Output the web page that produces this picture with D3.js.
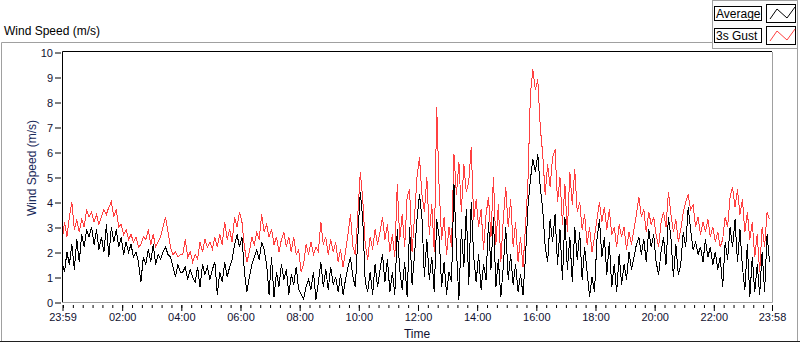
<!DOCTYPE html>
<html>
<head>
<meta charset="utf-8">
<script src="https://cdnjs.cloudflare.com/ajax/libs/d3/7.8.5/d3.min.js"></script>
<style>
body { margin: 0; background: #fff; }
text { font-family: "Liberation Sans", Arial, sans-serif; }
</style>
</head>
<body>
<svg id="chart"></svg>
<script>
// x axis labels, first and last are the record start / end
var timeLabels = ["23:59", "02:00", "04:00", "06:00", "08:00", "10:00", "12:00",
    "14:00", "16:00", "18:00", "20:00", "22:00", "23:58"];
var yTicks = [0, 1, 2, 3, 4, 5, 6, 7, 8, 9, 10];
var seriesNames = ["Average", "3s Gust"];
var sampleMinutes = 5;

// 3 s gust (red), one value per 5 minutes from 23:59
var gust = [2.4,3.2,2.6,3.4,4.0,2.9,3.3,2.8,3.3,3.0,3.7,3.4,3.6,3.2,3.5,3.1,3.4,3.7,3.5,3.8,4.0,3.4,3.7,3.0,3.1,2.7,2.9,2.5,2.7,2.4,2.6,2.2,2.3,2.6,2.5,2.9,2.3,2.7,2.2,2.4,2.6,3.0,3.4,2.8,2.2,1.9,2.0,1.8,1.9,
    1.9,2.5,1.8,2.0,1.6,1.9,1.7,2.4,2.0,2.5,2.2,2.4,2.1,2.6,2.2,2.7,2.3,3.2,2.5,2.9,2.4,3.4,3.0,3.6,3.2,2.2,1.6,2.0,2.6,2.3,2.8,2.5,3.5,2.8,3.1,2.6,2.9,2.3,2.6,2.0,2.5,2.8,2.2,2.6,2.0,2.6,1.9,2.1,
    1.2,1.5,2.3,1.9,2.4,1.9,2.2,2.0,3.2,2.3,2.6,1.9,2.5,2.0,2.4,1.6,2.1,1.4,2.0,2.7,3.5,2.2,1.9,3.5,5.2,4.1,2.3,1.7,2.6,2.1,2.9,2.3,2.8,3.4,2.5,3.1,2.0,2.7,1.8,4.7,2.5,3.5,2.2,4.2,4.5,2.0,3.4,5.0,5.8,
    4.3,3.6,5.0,2.7,3.9,2.0,7.8,4.5,2.5,3.4,1.9,3.0,2.2,5.9,4.3,5.6,3.6,5.5,4.4,4.8,6.2,3.3,4.1,3.0,3.7,2.1,3.5,4.2,2.6,5.0,2.3,3.9,1.6,3.3,4.6,3.0,4.1,2.2,3.2,1.6,2.6,1.4,3.0,4.8,8.3,9.3,8.5,8.9,7.0,
    5.9,4.3,5.5,4.6,5.8,6.1,4.0,5.0,3.1,4.7,2.8,5.2,3.9,5.3,3.6,4.0,2.9,3.5,2.3,3.0,2.0,2.6,3.3,4.0,3.2,3.8,2.9,3.7,2.7,3.0,2.2,3.1,2.6,3.0,2.1,2.8,2.3,2.9,3.5,4.2,3.4,3.7,2.8,3.6,3.1,3.4,2.7,2.2,
    3.2,3.6,3.0,4.4,3.5,2.8,3.3,2.4,2.9,3.6,4.0,4.3,3.7,3.9,3.0,3.4,2.7,3.2,2.8,3.3,2.6,3.0,2.4,2.8,2.2,2.5,3.4,3.0,4.2,4.6,3.8,4.5,3.5,4.1,2.8,3.6,2.5,3.2,1.8,2.7,1.2,3.0,2.2,3.6,3.3];

// average (black)
var average = [1.6,1.2,2.0,1.5,2.3,1.3,2.5,1.6,2.7,2.2,2.9,2.6,3.0,2.3,2.9,2.1,2.6,2.0,3.1,1.8,3.0,2.4,2.9,2.2,2.6,1.9,2.4,2.0,2.3,1.8,2.0,1.6,0.8,1.8,1.5,2.1,1.6,2.3,1.5,1.9,1.7,2.0,2.2,1.9,1.8,1.4,1.0,1.5,1.2,
    1.2,1.4,0.9,1.3,1.0,0.8,1.4,0.6,1.5,1.1,1.4,0.9,1.3,1.6,0.3,1.2,0.8,1.6,1.0,1.4,1.7,2.3,2.7,2.2,2.6,1.2,0.4,1.0,1.5,1.8,2.1,1.7,2.4,2.1,1.5,0.3,1.8,0.2,1.2,0.6,1.5,0.9,1.3,0.3,1.1,0.7,1.4,0.5,
    0.3,0.1,0.6,0.9,0.5,1.2,0.1,0.8,1.6,0.6,1.3,0.5,1.4,0.7,1.0,0.4,1.1,0.3,0.9,1.4,1.8,1.0,0.6,2.6,4.4,3.3,0.8,0.4,1.2,0.3,1.5,0.6,1.3,1.9,0.8,1.7,0.4,1.2,0.3,2.9,1.3,0.5,1.6,0.2,3.0,0.7,1.9,3.3,4.3,
    3.4,1.0,2.5,0.9,1.8,0.4,3.3,2.6,0.6,1.6,0.3,1.2,0.8,4.7,2.1,0.1,2.9,1.4,3.7,0.7,4.0,1.8,0.8,1.9,0.5,1.5,0.9,3.2,1.3,3.4,0.6,1.7,0.2,1.4,3.0,0.9,1.9,0.7,1.5,0.4,1.1,0.3,1.8,3.8,4.9,5.7,5.2,5.9,4.6,
    3.7,2.2,1.6,3.3,2.4,3.5,1.5,2.9,0.9,3.4,1.3,2.6,0.8,3.0,1.7,2.8,0.9,2.2,1.2,0.2,1.0,0.4,2.5,3.3,1.8,2.6,1.1,2.4,0.6,1.5,0.4,1.9,0.7,1.5,0.9,2.0,1.3,1.8,2.3,2.6,1.9,2.5,1.6,2.9,2.2,2.7,1.6,1.1,
    2.0,2.6,1.5,3.4,2.6,1.0,2.3,1.1,1.5,2.8,2.2,3.8,2.9,2.1,2.4,1.9,2.2,1.6,2.5,1.8,2.2,1.5,2.0,1.3,1.8,0.6,2.4,1.7,3.0,2.2,3.3,1.6,2.9,1.4,0.5,2.3,0.2,1.8,0.4,1.5,0.3,2.0,0.4,2.7,1.6];

var W = 800, H = 342;
var plot = { left: 62, right: 772, top: 52, bottom: 302 };

var startTime = new Date(2020, 0, 1, 23, 59);
var endTime = new Date(2020, 0, 2, 23, 58);

function labelTime(lbl, i) {
    if (i == 0) return startTime;
    if (i == timeLabels.length - 1) return endTime;
    var p = lbl.split(":");
    return new Date(2020, 0, 2, +p[0], +p[1]);
}
var majorTimes = timeLabels.map(labelTime);

var xScale = d3.scaleTime()
    .domain([startTime, endTime])
    .range([plot.left, plot.right - 0.5]);

var yScale = d3.scaleLinear()
    .domain([0, 10])
    .range([plot.bottom, plot.top]);

var svg = d3.select("#chart")
    .attr("width", W)
    .attr("height", H);

svg.append("rect").attr("width", W).attr("height", H).attr("fill", "#fff");

// outer frame
svg.append("path")
    .attr("d", "M1.5,341.5 V42.5 H797.5 V341.5")
    .attr("fill", "none")
    .attr("stroke", "#a0a0a0");
svg.append("line")
    .attr("x1", 0).attr("x2", W).attr("y1", 341.5).attr("y2", 341.5)
    .attr("stroke", "#202020");

svg.append("text")
    .attr("x", 4)
    .attr("y", 35)
    .attr("font-size", "12px")
    .attr("fill", "#000")
    .text("Wind Speed (m/s)");

// plot area
svg.append("rect")
    .attr("x", plot.left).attr("y", plot.top)
    .attr("width", plot.right - plot.left).attr("height", plot.bottom - plot.top)
    .attr("fill", "#fff");

var line = function(vals) {
    return d3.line()
        .x(function(d, i) { return xScale(d3.timeMinute.offset(startTime, i * sampleMinutes)); })
        .y(function(d) { return yScale(d); })(vals);
};

// non-antialiased 1px traces, like the instrument display
svg.append("path")
    .attr("d", line(gust))
    .attr("fill", "none")
    .attr("stroke", "#ff4040")
    .attr("stroke-width", 1)
    .attr("shape-rendering", "crispEdges");

svg.append("path")
    .attr("d", line(average))
    .attr("fill", "none")
    .attr("stroke", "#000")
    .attr("stroke-width", 1)
    .attr("shape-rendering", "crispEdges");

// plot border: dark top/left, grey bottom/right
svg.append("path")
    .attr("d", "M" + (plot.left + 0.5) + "," + plot.bottom + " V" + (plot.top - 0.5) + " H" + plot.right)
    .attr("fill", "none").attr("stroke", "#000");
svg.append("path")
    .attr("d", "M" + plot.left + "," + (plot.bottom + 0.5) + " H" + (plot.right + 0.5) + " V" + plot.top)
    .attr("fill", "none").attr("stroke", "#a0a0a0");

// y axis
var yAxis = d3.axisLeft(yScale)
    .tickValues(yTicks)
    .tickSize(6)
    .tickPadding(2)
    .tickFormat(d3.format("d"));

var gy = svg.append("g")
    .attr("transform", "translate(" + (plot.left - 1) + ",0.5)")
    .call(yAxis);
gy.select(".domain").remove();
gy.selectAll("line").attr("stroke", "#000");
gy.selectAll("text")
    .attr("font-size", "11px")
    .attr("font-family", "Liberation Sans, Arial, sans-serif")
    .attr("fill", "#101030");

svg.append("text")
    .attr("transform", "translate(36,168) rotate(-90)")
    .attr("text-anchor", "middle")
    .attr("font-size", "12px")
    .attr("fill", "#1a2a5a")
    .text("Wind Speed (m/s)");

// x axis: minor every 20 min, major at labels
var minorAxis = d3.axisBottom(xScale)
    .ticks(d3.timeMinute.every(20))
    .tickSize(3)
    .tickFormat("");
var gxm = svg.append("g")
    .attr("transform", "translate(0.5," + (plot.bottom + 3) + ")")
    .call(minorAxis);
gxm.select(".domain").remove();
gxm.selectAll("line").attr("stroke", "#000");

var majorAxis = d3.axisBottom(xScale)
    .tickValues(majorTimes)
    .tickSize(6)
    .tickPadding(2)
    .tickFormat(function(d, i) { return timeLabels[i]; });
var gx = svg.append("g")
    .attr("transform", "translate(0.5," + (plot.bottom + 3) + ")")
    .call(majorAxis);
gx.select(".domain").remove();
gx.selectAll("line").attr("stroke", "#000");
gx.selectAll("text")
    .attr("font-size", "11px")
    .attr("font-family", "Liberation Sans, Arial, sans-serif")
    .attr("fill", "#101030");

svg.append("text")
    .attr("x", 417)
    .attr("y", 338)
    .attr("text-anchor", "middle")
    .attr("font-size", "12px")
    .attr("fill", "#101030")
    .text("Time");

// legend
var legend = svg.append("g");
legend.append("rect")
    .attr("x", 712.5).attr("y", 0.5).attr("width", 85).attr("height", 48)
    .attr("fill", "#fbfbfb").attr("stroke", "#a0a0a0");

var legendColors = ["#000", "#ff4040"];
var zig = d3.line()([[3, 14], [10, 4], [20, 13], [28, 2]]);

seriesNames.forEach(function(name, i) {
    var gy0 = 4 + i * 22;
    var row = legend.append("g").attr("transform", "translate(0," + gy0 + ")");
    row.append("rect")
        .attr("x", 714.5).attr("y", 2.5).attr("width", 47).attr("height", 14)
        .attr("fill", "#fff").attr("stroke", "#000");
    row.append("text")
        .attr("x", 716).attr("y", 14)
        .attr("font-size", "12px")
        .attr("fill", "#000")
        .text(name);
    row.append("rect")
        .attr("x", 766.5).attr("y", 0.5).attr("width", 29).attr("height", 18)
        .attr("fill", "#fff").attr("stroke", "#000");
    row.append("path")
        .attr("transform", "translate(767,1)")
        .attr("d", zig)
        .attr("fill", "none")
        .attr("stroke", legendColors[i]);
});
</script>
</body>
</html>
